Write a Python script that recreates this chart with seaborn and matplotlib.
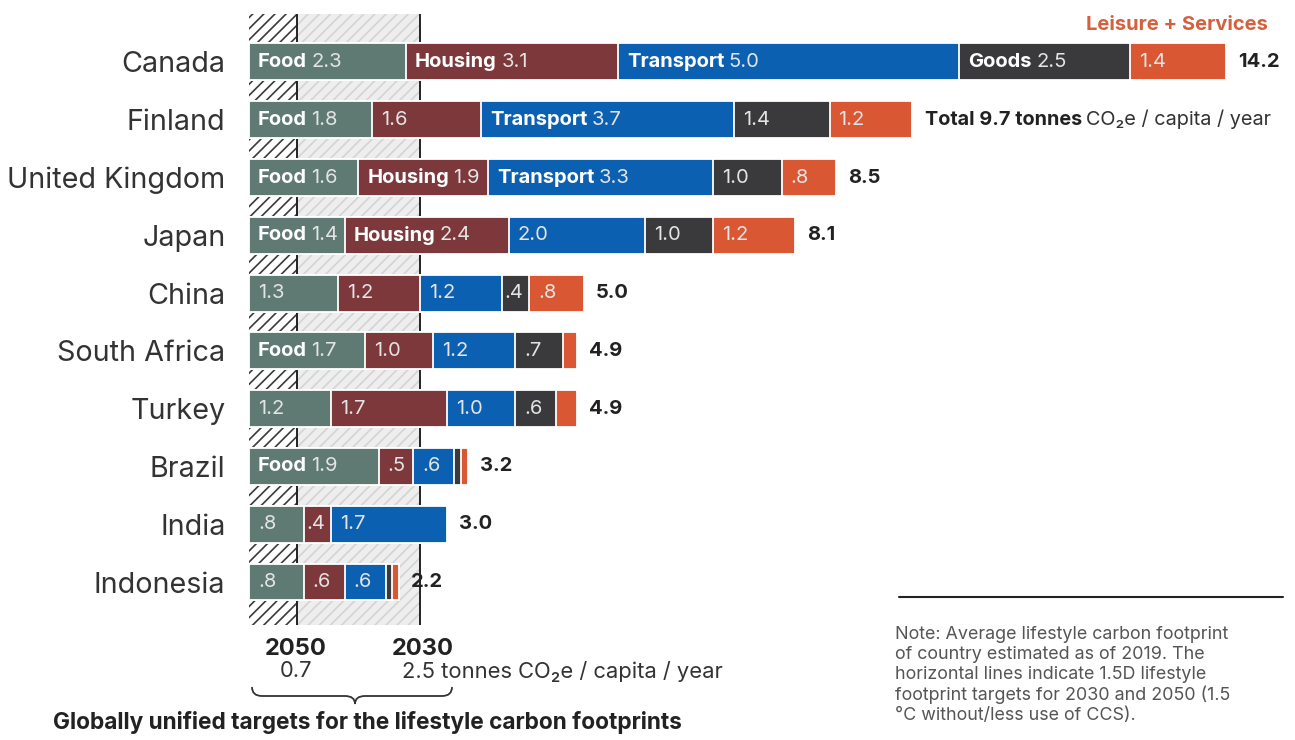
import matplotlib
matplotlib.use('Agg')
import pandas as pd
import matplotlib.pyplot as plt
import seaborn as sns
from matplotlib.path import Path
from matplotlib.patches import PathPatch

# Data (tonnes CO2e / capita / year)
countries = ['Canada', 'Finland', 'United Kingdom', 'Japan', 'China',
             'South Africa', 'Turkey', 'Brazil', 'India', 'Indonesia']
food = [2.3, 1.8, 1.6, 1.4, 1.3, 1.7, 1.2, 1.9, 0.8, 0.8]
housing = [3.1, 1.6, 1.9, 2.4, 1.2, 1.0, 1.7, 0.5, 0.4, 0.6]
transport = [5.0, 3.7, 3.3, 2.0, 1.2, 1.2, 1.0, 0.6, 1.7, 0.6]
goods = [2.5, 1.4, 1.0, 1.0, 0.4, 0.7, 0.6, 0.1, 0.0, 0.1]
leisure = [1.4, 1.2, 0.8, 1.2, 0.8, 0.2, 0.3, 0.1, 0.0, 0.1]
totals = ['14.2', '9.7', '8.5', '8.1', '5.0', '4.9', '4.9', '3.2', '3.0', '2.2']

cats = ['Food', 'Housing', 'Transport', 'Goods', 'Leisure']
colors = {'Food': '#5e7a72', 'Housing': '#7d383b', 'Transport': '#0c60b2',
          'Goods': '#3a3a3d', 'Leisure': '#d95732'}
# which segments carry the category name in front of the value
show_name = {
    'Food':      [1, 1, 1, 1, 0, 1, 0, 1, 0, 0],
    'Housing':   [1, 0, 1, 1, 0, 0, 0, 0, 0, 0],
    'Transport': [1, 1, 1, 0, 0, 0, 0, 0, 0, 0],
    'Goods':     [1, 0, 0, 0, 0, 0, 0, 0, 0, 0],
    'Leisure':   [0, 0, 0, 0, 0, 0, 0, 0, 0, 0],
}
target_2050 = 0.7
target_2030 = 2.5

df = pd.DataFrame({'Country': countries, 'Food': food, 'Housing': housing,
                   'Transport': transport, 'Goods': goods, 'Leisure': leisure})
cum = df[cats].cumsum(axis=1)
left = cum - df[cats]

sns.set_theme(style='white')
plt.rcParams['font.family'] = ['Inter', 'DejaVu Sans']
plt.rcParams['hatch.linewidth'] = 1.2

W, H = 1295, 740
fig = plt.figure(figsize=(W / 100, H / 100), dpi=100)
fx = lambda px: px / W
fy = lambda py: 1 - py / H

ax = fig.add_axes([fx(249), fy(625), fx(W - 249), (625 - 14) / H])

# target background bands
ax.axvspan(0, target_2050, facecolor='white', edgecolor='#3a3a3a', hatch='///', lw=0, zorder=0)
ax.axvspan(target_2050, target_2030, facecolor='#eeeeee', edgecolor='#d4d4d4', hatch='///', lw=0, zorder=0)
ax.axvline(target_2050, color='#222222', lw=1.4, zorder=1)
ax.axvline(target_2030, color='#222222', lw=1.4, zorder=1)

# stacked bars: draw cumulative totals from the last category to the first
for c in reversed(cats):
    sns.barplot(x=cum[c].values, y=df['Country'], color=colors[c], saturation=1,
                width=0.64, edgecolor='white', linewidth=1.3, errorbar=None,
                orient='h', ax=ax, zorder=3)

ax.set_xlim(0, (W - 249) / 68.3)
ax.set_ylim(9.744, -0.83)
sns.despine(ax=ax, left=True, bottom=True)
ax.set_xticks([])
ax.set_xlabel('')
ax.set_ylabel('')
ax.tick_params(axis='y', length=0, pad=17, labelsize=20.7, labelcolor='#333333')

renderer = fig.canvas.get_renderer()


def two_part(x, y, bold, regular, off, size, cb, cr):
    pos = off
    if bold:
        t = ax.annotate(bold, xy=(x, y), xytext=(pos, 0), textcoords='offset pixels',
                        ha='left', va='center', fontsize=size, fontweight='bold',
                        color=cb, zorder=5)
        pos += t.get_window_extent(renderer).width + size * 0.3
    if regular:
        ax.annotate(regular, xy=(x, y), xytext=(pos, 0), textcoords='offset pixels',
                    ha='left', va='center', fontsize=size, color=cr, zorder=5)


def fmt(v):
    s = f'{v:.1f}'
    return s[1:] if v < 1 else s


for c in cats:
    for i in range(len(countries)):
        v = df.loc[i, c]
        if v < 0.4:
            continue
        off = 9 if v >= 0.5 else 3
        name = c if show_name[c][i] else ''
        two_part(left.loc[i, c], i, name, fmt(v), off, 14.5, 'white', '#e4e4e4')

# totals at the end of each bar
for i, tot in enumerate(totals):
    end = cum.loc[i, 'Leisure']
    if countries[i] == 'Finland':
        two_part(end, i, f'Total {tot} tonnes', 'CO\u2082e / capita / year', 13, 14.3,
                 '#222222', '#333333')
    else:
        two_part(end, i, tot, '', 12, 14.5, '#222222', '#333333')

fig.text(fx(1268), fy(25), 'Leisure + Services', ha='right', va='center',
         fontsize=14.5, fontweight='bold', color='#d4603f')

# target captions below the chart
fig.text(fx(296), fy(649), '2050', ha='center', va='center', fontsize=17,
         fontweight='bold', color='#222222')
fig.text(fx(423), fy(649), '2030', ha='center', va='center', fontsize=17,
         fontweight='bold', color='#222222')
fig.text(fx(296), fy(671), '0.7', ha='center', va='center', fontsize=15.8, color='#333333')
fig.text(fx(402), fy(671), '2.5 tonnes CO\u2082e / capita / year', ha='left', va='center',
         fontsize=15.8, color='#333333')

# curly brace
verts = [(252, 687), (252, 696), (262, 696), (345, 696), (355, 696), (355, 704),
         (355, 696), (365, 696), (442, 696), (452, 696), (452, 687)]
codes = [Path.MOVETO, Path.CURVE3, Path.CURVE3, Path.LINETO, Path.CURVE3, Path.CURVE3,
         Path.CURVE3, Path.CURVE3, Path.LINETO, Path.CURVE3, Path.CURVE3]
brace = Path([(fx(a), fy(b)) for a, b in verts], codes)
fig.add_artist(PathPatch(brace, transform=fig.transFigure, facecolor='none',
                         edgecolor='#333333', lw=1.3))

fig.text(fx(53), fy(723), 'Globally unified targets for the lifestyle carbon footprints',
         ha='left', va='center', fontsize=16.3, fontweight='bold', color='#222222')

# note
fig.add_artist(plt.Line2D([fx(899), fx(1283)], [fy(597), fy(597)],
                          transform=fig.transFigure, color='#222222', lw=1.5))
note = ('Note: Average lifestyle carbon footprint\n'
        'of country estimated as of 2019. The\n'
        'horizontal lines indicate 1.5D lifestyle\n'
        'footprint targets for 2030 and 2050 (1.5\n'
        '\u00b0C without/less use of CCS).')
fig.text(fx(895), fy(626), note, ha='left', va='top', fontsize=12.9,
         color='#555555', linespacing=1.22)

fig.savefig('out.png', dpi=100, facecolor='white')
